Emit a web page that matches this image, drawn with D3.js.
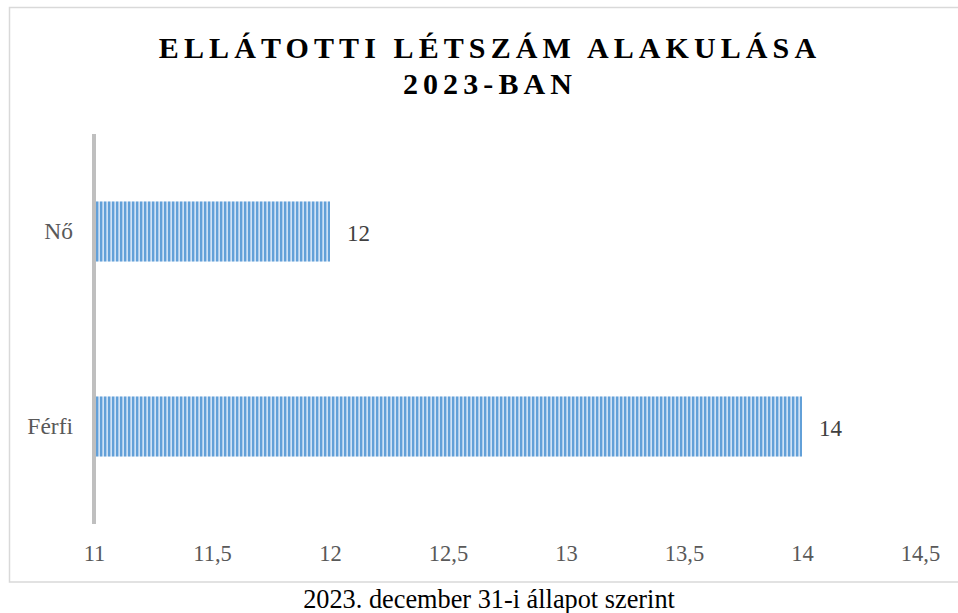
<!DOCTYPE html>
<html>
<head>
<meta charset="utf-8">
<script src="https://cdn.jsdelivr.net/npm/d3@7"></script>
<style>
  html, body { margin: 0; padding: 0; background: #fff; }
  svg { display: block; }
</style>
</head>
<body>
<svg id="chart" width="958" height="613"></svg>
<script>
// ---- data ----
const categories = ["Nő", "Férfi"];
const values = [12, 14];
const tickValues = [11, 11.5, 12, 12.5, 13, 13.5, 14, 14.5];
const titleLines = ["ELLÁTOTTI LÉTSZÁM ALAKULÁSA", "2023-BAN"];
const footnote = "2023. december 31-i állapot szerint";

const svg = d3.select("#chart");
const serif = "'Liberation Serif', 'Times New Roman', Times, serif";

// pattern for bars (vertical stripes)
const defs = svg.append("defs");
const pat = defs.append("pattern")
  .attr("id", "stripes")
  .attr("patternUnits", "userSpaceOnUse")
  .attr("width", 4).attr("height", 10);
pat.append("rect").attr("width", 4).attr("height", 10).attr("fill", "#cfe2f5");
pat.append("rect").attr("x", 0).attr("width", 2).attr("height", 10).attr("fill", "#62a0d8");
pat.append("rect").attr("x", 2).attr("width", 0.8).attr("height", 10).attr("fill", "#a4c7ea");

// chart frame
svg.append("rect")
  .attr("x", 9.5).attr("y", 7.5)
  .attr("width", 960).attr("height", 574.5)
  .attr("fill", "none")
  .attr("stroke", "#d9d9d9")
  .attr("stroke-width", 1.5);

// title
const title = svg.append("text")
  .attr("text-anchor", "middle")
  .attr("font-family", serif)
  .attr("font-weight", "bold")
  .attr("font-size", 30)
  .attr("letter-spacing", "5.1px")
  .attr("fill", "#000");
titleLines.forEach((t, i) => {
  title.append("tspan")
    .attr("x", 490)
    .attr("y", i === 0 ? 58 : 94)
    .text(t);
});

// scales
const x = d3.scaleLinear().domain([11, 14.5]).range([94, 920]);
const y = d3.scaleBand()
  .domain(categories)
  .range([134, 524])
  .paddingInner(0.692)
  .paddingOuter(0.346);

// bars
svg.append("g").selectAll("rect")
  .data(categories.map((c, i) => ({ c, v: values[i] })))
  .join("rect")
  .attr("x", x(11) + 2)
  .attr("y", d => y(d.c))
  .attr("width", d => x(d.v) - x(11) - 2)
  .attr("height", y.bandwidth())
  .attr("fill", "url(#stripes)");

// value labels
svg.append("g").selectAll("text")
  .data(categories.map((c, i) => ({ c, v: values[i] })))
  .join("text")
  .attr("x", d => x(d.v) + 17)
  .attr("y", d => y(d.c) + y.bandwidth() / 2 + 9)
  .attr("font-family", serif)
  .attr("font-size", 23)
  .attr("fill", "#404040")
  .text(d => d.v);

// vertical axis line
svg.append("line")
  .attr("x1", x(11)).attr("x2", x(11))
  .attr("y1", 134).attr("y2", 524)
  .attr("stroke", "#bfbfbf")
  .attr("stroke-width", 4);

// category labels
const yAxis = d3.axisLeft(y).tickSize(0).tickPadding(0);
const gy = svg.append("g").attr("transform", "translate(73,0)").call(yAxis);
gy.select(".domain").remove();
gy.selectAll("text")
  .attr("font-family", serif)
  .attr("font-size", 23.5)
  .attr("fill", "#595959")
  .attr("dy", "0.32em");

// x axis tick labels
const fmt = d => String(d).replace(".", ",");
const xAxis = d3.axisBottom(x).tickValues(tickValues).tickFormat(fmt).tickSize(0).tickPadding(0);
const gx = svg.append("g").attr("transform", "translate(0,545)").call(xAxis);
gx.select(".domain").remove();
gx.selectAll("text")
  .attr("font-family", serif)
  .attr("font-size", 22.5)
  .attr("fill", "#595959")
  .attr("dy", "0.71em");

// footnote
svg.append("text")
  .attr("x", 489).attr("y", 608)
  .attr("text-anchor", "middle")
  .attr("font-family", serif)
  .attr("font-size", 26.3)
  .attr("fill", "#000")
  .text(footnote);
</script>
</body>
</html>
